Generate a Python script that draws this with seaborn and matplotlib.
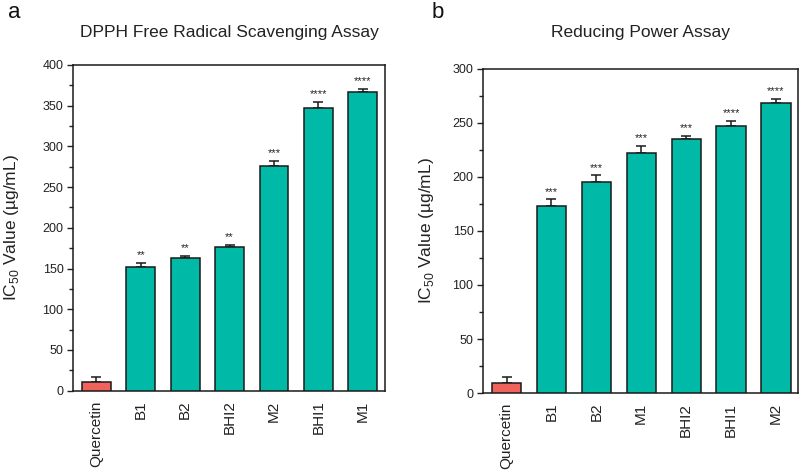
import matplotlib
matplotlib.use("Agg")
import matplotlib.pyplot as plt
import seaborn as sns
import numpy as np
from matplotlib.ticker import MultipleLocator

sns.set_style("white")
plt.rcParams['font.family'] = ['Liberation Sans', 'DejaVu Sans']
plt.rcParams['mathtext.fontset'] = 'custom'
plt.rcParams['mathtext.rm'] = 'Liberation Sans'

# ---- data ----
dpph_labels = ["Quercetin", "B1", "B2", "BHI2", "M2", "BHI1", "M1"]
dpph_values = [10.7, 151.7, 162.8, 177.0, 276.3, 347.6, 366.4]
dpph_errors = [6.5, 5.5, 3.0, 2.0, 6.0, 7.0, 4.0]
dpph_stars = ["", "**", "**", "**", "***", "****", "****"]

rp_labels = ["Quercetin", "B1", "B2", "M1", "BHI2", "BHI1", "M2"]
rp_values = [9.6, 173.1, 195.0, 222.0, 235.0, 246.6, 268.2]
rp_errors = [5.2, 6.2, 6.5, 7.0, 3.0, 5.2, 3.8]
rp_stars = ["", "***", "***", "***", "***", "****", "****"]

titles = ["DPPH Free Radical Scavenging Assay", "Reducing Power Assay"]
ylims = [400, 300]
ylabel = r"IC$_{50}$ Value (µg/mL)"

RED = "#F0625C"
TEAL = "#00B9A6"

fig = plt.figure(figsize=(8.0, 4.73), dpi=100)
ax1 = fig.add_axes([0.0916, 0.174, 0.3896, 0.6886])
ax2 = fig.add_axes([0.604, 0.169, 0.394, 0.6856])

panels = [
    (ax1, dpph_labels, dpph_values, dpph_errors, dpph_stars, titles[0], ylims[0], 20.5, -0.168),
    (ax2, rp_labels, rp_values, rp_errors, rp_stars, titles[1], ylims[1], 23.0, -0.15),
]

for ax, labels, values, errors, stars, title, ymax, tpad, ylx in panels:
    colors = [RED] + [TEAL] * (len(labels) - 1)
    sns.barplot(x=labels, y=values, hue=labels, palette=colors, legend=False,
                width=0.65, saturation=1, edgecolor="#1a1a1a", linewidth=1.1,
                errorbar=None, ax=ax, zorder=3)
    xs = np.arange(len(labels))
    ax.errorbar(xs, values, yerr=[np.zeros(len(values)), errors], fmt="none",
                ecolor="#1a1a1a", elinewidth=1.1, capsize=3.5, capthick=1.1, zorder=2)
    for x, v, e, s in zip(xs, values, errors, stars):
        if s:
            ax.text(x, v + e + ymax * 0.008, s, ha="center", va="bottom",
                    fontsize=8, color="#222222")
    ax.set_xlim(-0.52, len(labels) - 0.5)
    ax.set_ylim(0, ymax)
    ax.yaxis.set_major_locator(MultipleLocator(50))
    ax.yaxis.set_minor_locator(MultipleLocator(25))
    ax.tick_params(axis="y", which="both", left=True, direction="out",
                   labelsize=9, colors="#222222", pad=3)
    ax.tick_params(axis="y", which="major", length=4, width=1)
    ax.tick_params(axis="y", which="minor", length=3, width=1)
    ax.tick_params(axis="x", length=0, labelsize=11, pad=7, colors="#222222")
    ax.set_xticks(xs)
    ax.set_xticklabels(labels, rotation=90)
    for sp in ax.spines.values():
        sp.set_color("#1a1a1a")
        sp.set_linewidth(1.1)
    ax.set_ylabel(ylabel, fontsize=12.5, color="#222222")
    ax.yaxis.set_label_coords(ylx, 0.5)
    ax.set_xlabel("")
    ax.set_title(title, fontsize=12.5, pad=tpad, color="#222222")

fig.text(0.01, 1 - 18.3 / 473, "a", fontsize=16, va="baseline", color="#111111")
fig.text(0.54, 1 - 18.3 / 473, "b", fontsize=16, va="baseline", color="#111111")

fig.savefig("out.png", dpi=100)
